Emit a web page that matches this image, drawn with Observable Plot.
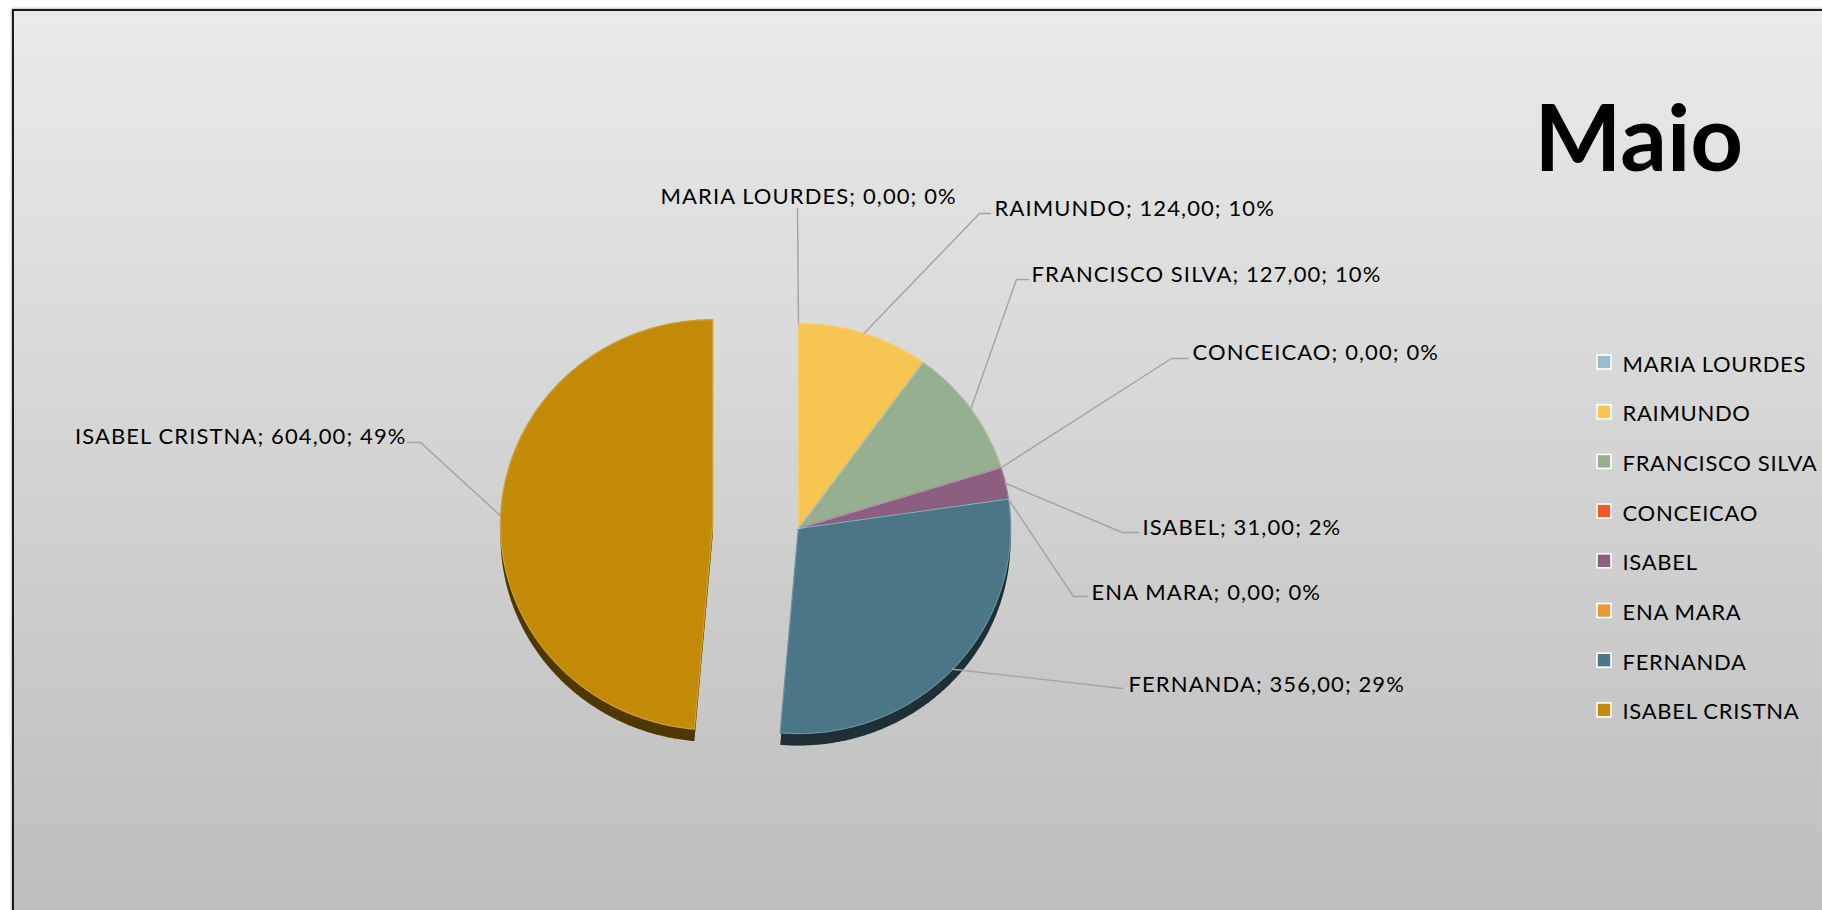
<!DOCTYPE html>
<html>
<head>
<meta charset="utf-8">
<script src="https://cdn.jsdelivr.net/npm/d3@7"></script>
<script src="https://cdn.jsdelivr.net/npm/@observablehq/plot@0.6"></script>
<style>
  html, body { margin: 0; padding: 0; background: #fff; overflow: hidden; width: 1822px; height: 910px; }
  #frame { position: absolute; left: 12px; top: 9px; width: 1900px; height: 1000px;
           border-left: 2px solid #1a1a1a; border-top: 2px solid #1a1a1a;
           background: linear-gradient(#eaeaea 0px, #bdbdbd 900px, #bdbdbd 1000px);
           box-shadow: -1px -1px 2px rgba(0,0,0,0.25); }
  #chart { position: absolute; left: 0; top: 0; }
  .lbl text { letter-spacing: 1.1px; }
  .leg text { letter-spacing: 0.7px; }
</style>
</head>
<body>
<div id="frame"></div>
<div id="chart"></div>
<script>
// ---- data ----
const names = ["MARIA LOURDES", "RAIMUNDO", "FRANCISCO SILVA", "CONCEICAO", "ISABEL", "ENA MARA", "FERNANDA", "ISABEL CRISTNA"];
const values = [0, 124, 127, 0, 31, 0, 356, 604];
const colors = ["#9bbccd", "#f6c552", "#97af91", "#f15a2b", "#8c5f80", "#e99a30", "#4b7688", "#c28a06"];
const title = "Maio";

// ---- layout ----
const W = 1822, H = 910;
const cx = 798, cy = 528, rx = 212, ry = 205;
const explodeName = "ISABEL CRISTNA", explodeDist = 86;
const labelLayout = {
  "MARIA LOURDES":   {tx: 660,  ty: 203, anchor: "start", elbow: [797, 208], end: [797, 208]},
  "RAIMUNDO":        {tx: 994,  ty: 215, anchor: "start", elbow: [979, 213], end: [990, 213]},
  "FRANCISCO SILVA": {tx: 1031, ty: 281, anchor: "start", elbow: [1016, 279], end: [1028, 279]},
  "CONCEICAO":       {tx: 1192, ty: 359, anchor: "start", elbow: [1171, 358], end: [1188, 358]},
  "ISABEL":          {tx: 1142, ty: 534, anchor: "start", elbow: [1122, 532], end: [1138, 532]},
  "ENA MARA":        {tx: 1091, ty: 599, anchor: "start", elbow: [1073, 596], end: [1087, 596]},
  "FERNANDA":        {tx: 1128, ty: 691, anchor: "start", elbow: [1122, 688], end: [1122, 688]},
  "ISABEL CRISTNA":  {tx: 406,  ty: 443, anchor: "end",   elbow: [420, 442], end: [407, 442]}
};

const total = d3.sum(values);
const fmtNum = v => v.toFixed(2).replace(".", ",");
let acc = 0;
const slices = names.map((name, i) => {
  const a0 = acc / total * 2 * Math.PI;
  acc += values[i];
  const a1 = acc / total * 2 * Math.PI;
  return {name, value: values[i], a0, a1, mid: (a0 + a1) / 2, pct: Math.round(values[i] / total * 100)};
});
function pt(s, a, k = 1) {
  const off = s.name === explodeName ? explodeDist : 0;
  const ox = off * Math.sin(s.mid), oy = -off * Math.cos(s.mid);
  return [cx + ox + k * rx * Math.sin(a), cy + oy - k * ry * Math.cos(a)];
}
const slicePts = slices.filter(s => s.value > 0).flatMap(s => {
  const c = pt(s, 0, 0);
  const n = Math.max(2, Math.ceil((s.a1 - s.a0) / (Math.PI / 360)));
  const arr = [{name: s.name, x: c[0], y: c[1]}];
  for (let j = 0; j <= n; j++) {
    const p = pt(s, s.a0 + (s.a1 - s.a0) * j / n);
    arr.push({name: s.name, x: p[0], y: p[1]});
  }
  return arr;
});
const leaderPts = slices.flatMap(s => {
  const L = labelLayout[s.name];
  const p = pt(s, s.mid);
  return [
    {name: s.name, x: p[0], y: p[1]},
    {name: s.name, x: L.elbow[0], y: L.elbow[1]},
    {name: s.name, x: L.end[0], y: L.end[1]}
  ];
});
const labels = slices.map(s => ({
  ...labelLayout[s.name],
  text: `${s.name}; ${fmtNum(s.value)}; ${s.pct}%`
}));
const legRows = names.map((name, i) => ({name, y: 362 + i * 49.7}));

const chart = Plot.plot({
  width: W, height: H, margin: 0,
  x: {domain: [0, W], range: [0, W], axis: null},
  y: {domain: [0, H], range: [0, H], axis: null},
  color: {domain: names, range: colors},
  style: {background: "transparent", fontFamily: "Lato, 'Open Sans', sans-serif", overflow: "visible"},
  marks: [
    // shadows
    Plot.line(slicePts, {x: "x", y: "y", z: "name", fill: "name", stroke: null, curve: "linear-closed", dy: 12}),
    Plot.line(slicePts, {x: "x", y: "y", z: "name", fill: "#000", fillOpacity: 0.6, stroke: null, curve: "linear-closed", dy: 12}),
    // slices (stroked in own colour to hide shadow fringes)
    Plot.line(slicePts, {x: "x", y: "y", z: "name", fill: "name", stroke: "name", strokeWidth: 1.4, curve: "linear-closed"}),
    // faint separators
    Plot.line(slicePts, {x: "x", y: "y", z: "name", fill: null, stroke: "#ffffff", strokeOpacity: 0.3, strokeWidth: 0.8, strokeDasharray: "2,1", curve: "linear-closed"}),
    // leader lines
    Plot.line(leaderPts, {x: "x", y: "y", z: "name", stroke: "#a3a3a3", strokeWidth: 1.4}),
    // data labels
    Plot.text(labels.filter(d => d.anchor === "start"), {x: "tx", y: "ty", text: "text", textAnchor: "start", lineAnchor: "bottom", fontSize: 22, fill: "#000", className: "lbl"}),
    Plot.text(labels.filter(d => d.anchor === "end"), {x: "tx", y: "ty", text: "text", textAnchor: "end", lineAnchor: "bottom", fontSize: 22, fill: "#000", className: "lbl"}),
    // legend
    Plot.rect(legRows, {x1: () => 1597, x2: () => 1611, y1: d => d.y - 7, y2: d => d.y + 7, fill: "name", stroke: "#fff", strokeWidth: 1.6}),
    Plot.text(legRows, {x: () => 1622, y: d => d.y + 9, text: "name", textAnchor: "start", lineAnchor: "bottom", fontSize: 22, fill: "#000", className: "leg"}),
    // title
    Plot.text([title], {x: () => 1534, y: () => 170, text: d => d, textAnchor: "start", lineAnchor: "bottom", fontSize: 92, fontWeight: "bold", fill: "#000"})
  ]
});
document.getElementById("chart").appendChild(chart);
</script>
</body>
</html>
